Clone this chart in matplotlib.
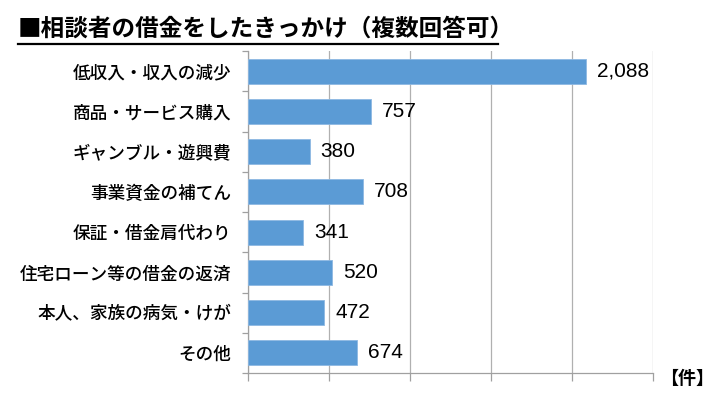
import matplotlib
matplotlib.use("Agg")
import matplotlib.pyplot as plt

plt.rcParams['font.family'] = ['Noto Sans CJK JP', 'DejaVu Sans']

# ── data ─────────────────────────────────────────────────────────────────────
categories = [
    "低収入・収入の減少",
    "商品・サービス購入",
    "ギャンブル・遊興費",
    "事業資金の補てん",
    "保証・借金肩代わり",
    "住宅ローン等の借金の返済",
    "本人、家族の病気・けが",
    "その他",
]
counts = [2088, 757, 380, 708, 341, 520, 472, 674]
title = "■相談者の借金をしたきっかけ（複数回答可）"
unit = "【件】"
# ─────────────────────────────────────────────────────────────────────────────

W, H = 728, 400
fig = plt.figure(figsize=(W / 100, H / 100), dpi=100)
ax = fig.add_axes([248 / W, 1 - 373 / H, (653 - 248) / W, (373 - 51) / H])

y = list(range(len(categories)))
ax.barh(y, counts, height=0.62, color="#5B9BD5", edgecolor="#8DB8E2", linewidth=0.6, zorder=3)
ax.set_ylim(len(categories) - 0.5, -0.5)
ax.set_xlim(0, 2500)

ax.set_xticks(range(0, 2501, 500))
ax.set_xticklabels([])
ax.xaxis.grid(True, color="#B0B0B0", linewidth=0.9, zorder=0)
ax.tick_params(axis="x", length=6, color="#A0A0A0", width=0.9)

ax.set_yticks(y)
ax.set_yticklabels(categories, fontsize=12.7, fontweight="medium")
ax.set_yticks([i + 0.5 for i in range(-1, len(categories))], minor=True)
ax.tick_params(axis="y", which="major", length=0, pad=12)
ax.tick_params(axis="y", which="minor", length=4, color="#A0A0A0", width=0.9)

for s in ["top", "right"]:
    ax.spines[s].set_visible(False)
for s in ["left", "bottom"]:
    ax.spines[s].set_color("#A0A0A0")
    ax.spines[s].set_linewidth(0.9)

for yi, v in zip(y, counts):
    ax.annotate(f"{v:,}", (v, yi), xytext=(8, 0), textcoords="offset points",
                va="center", ha="left", fontsize=15,
                family=["Liberation Sans", "DejaVu Sans"], zorder=4)

fig.text(18 / W, 1 - 29 / H, title, fontsize=17, fontweight="bold", va="center", ha="left")
fig.add_artist(plt.Line2D([18 / W, 498 / W], [1 - 44 / H, 1 - 44 / H], color="black", linewidth=1.6))
fig.text(660 / W, 1 - 378 / H, unit, fontsize=13, fontweight="bold", va="center", ha="left")

fig.savefig("out.png", dpi=100)
